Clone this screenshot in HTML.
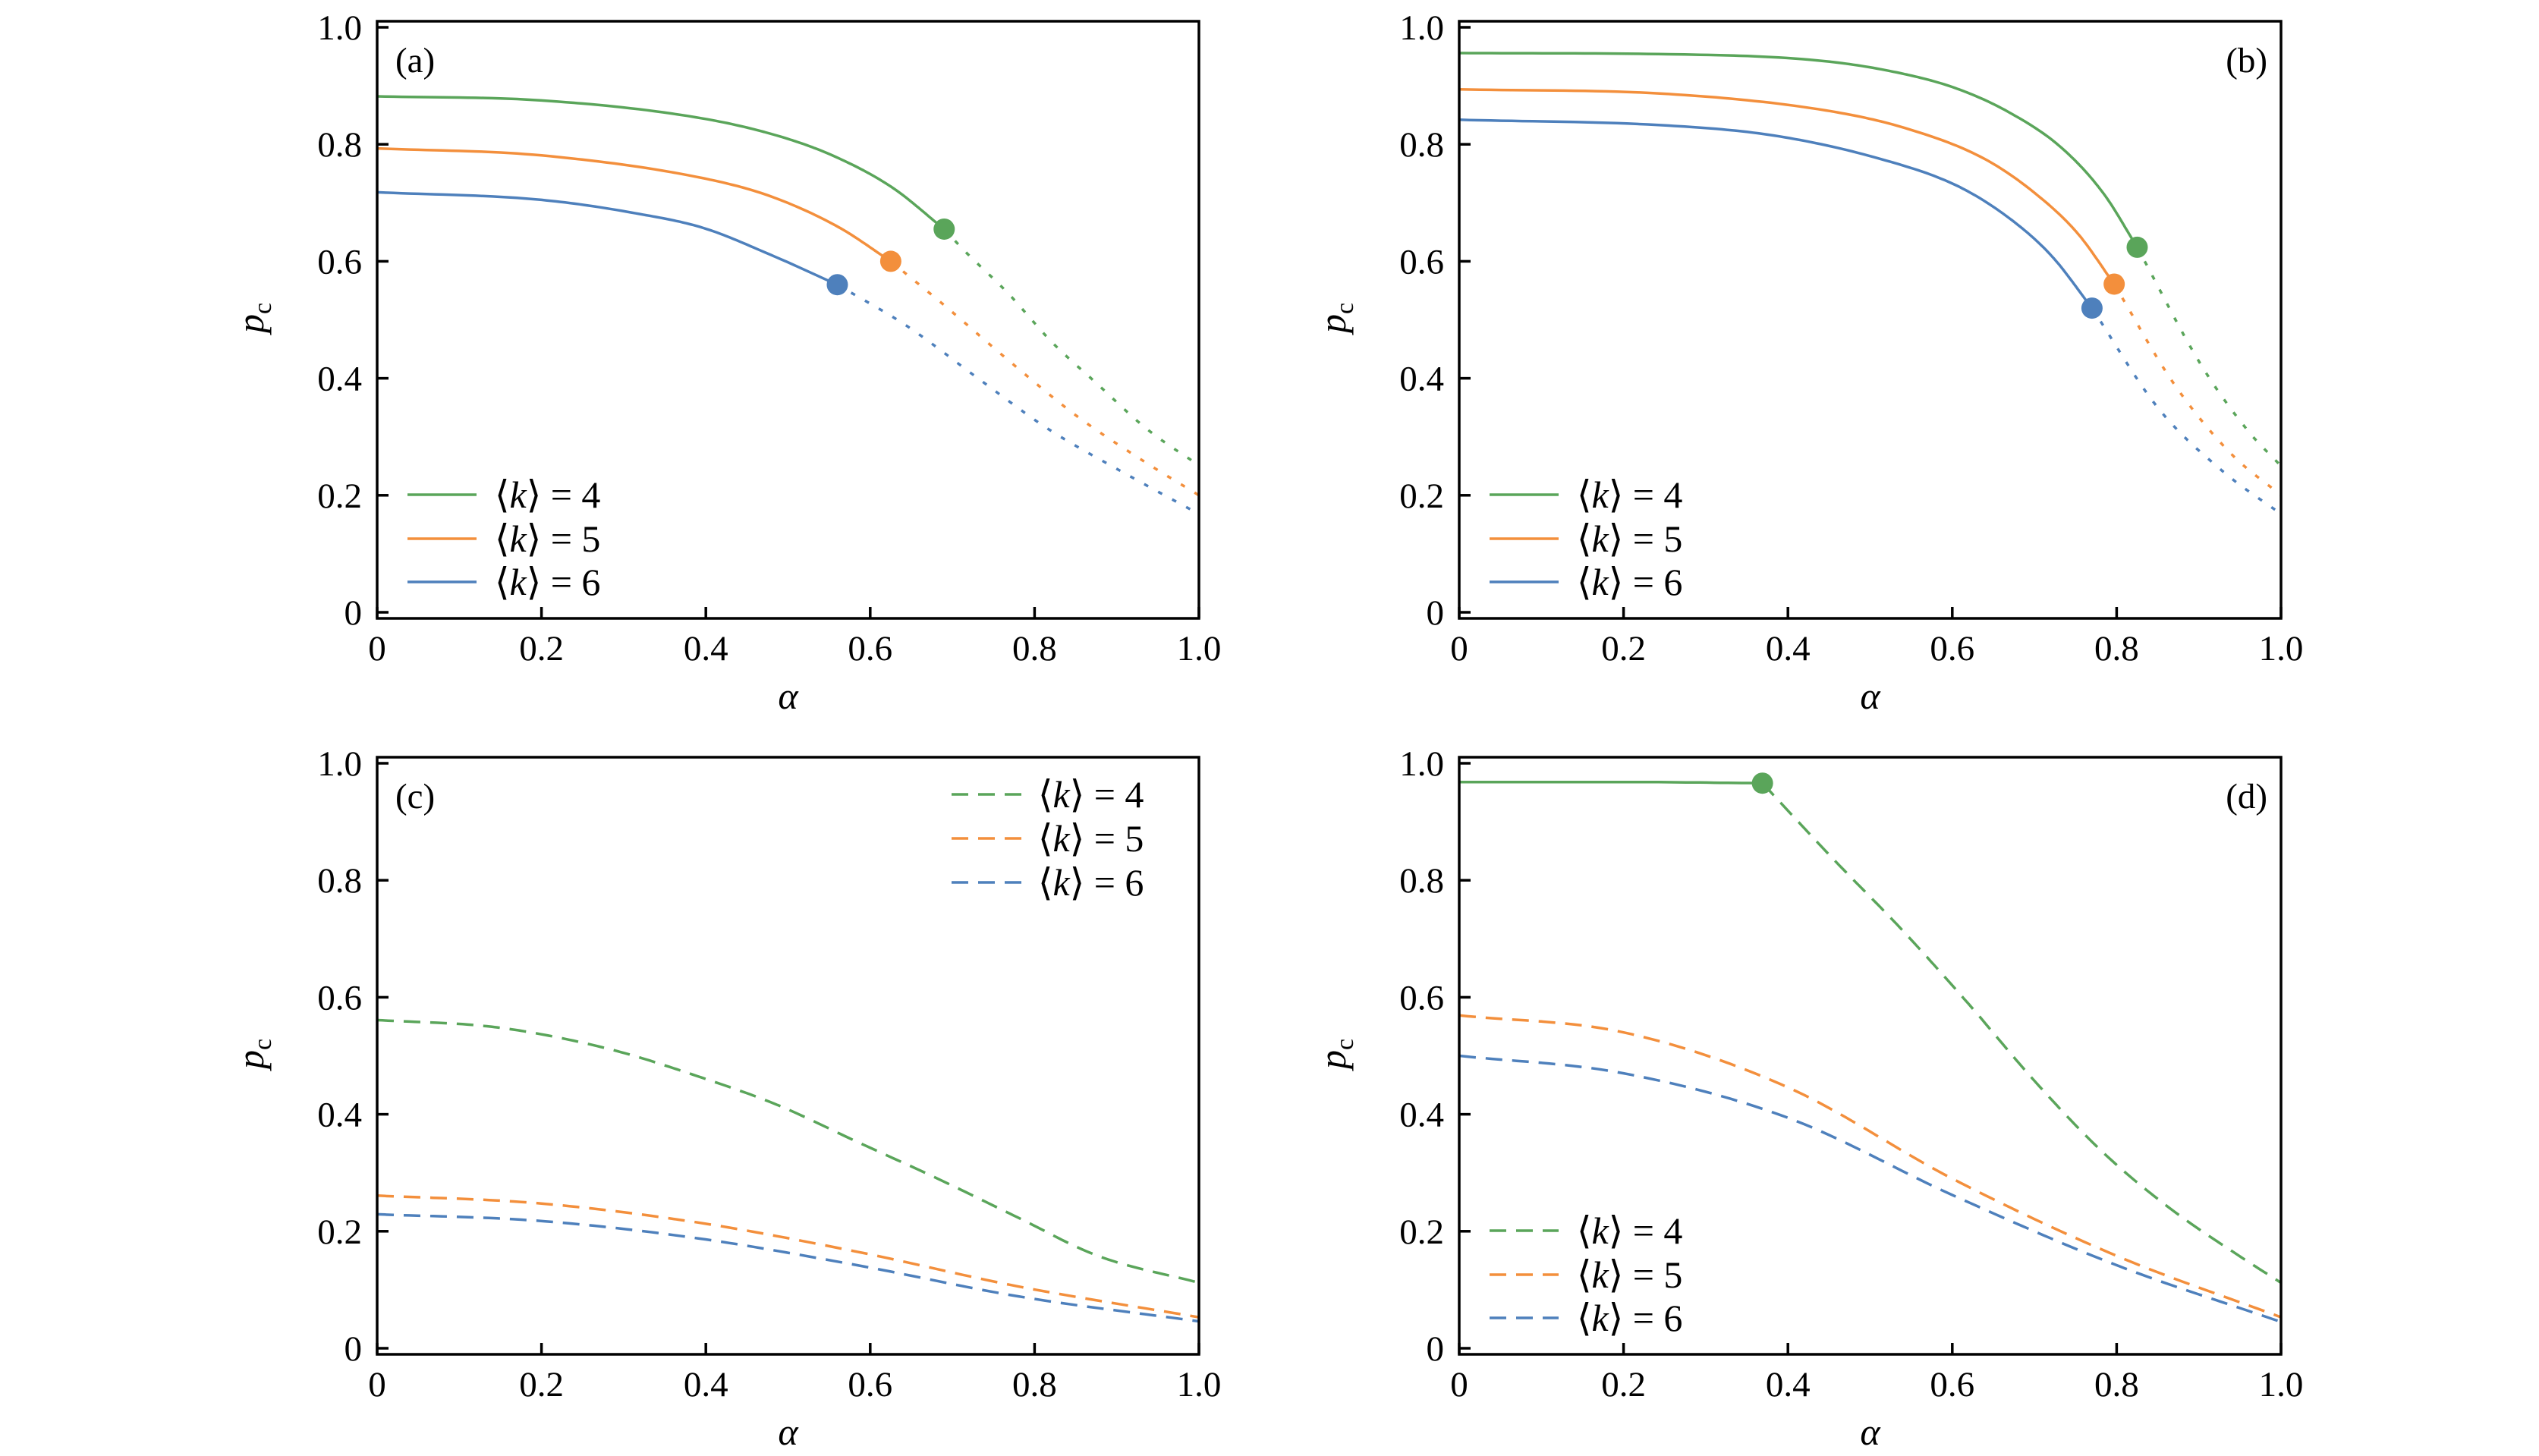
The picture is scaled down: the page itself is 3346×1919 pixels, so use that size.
<!DOCTYPE html>
<html><head><meta charset="utf-8"><title>p_c vs alpha</title>
<style>
html,body{margin:0;padding:0;background:#fff;}
svg{display:block;}
text{font-family:"Liberation Serif","DejaVu Serif",serif;fill:#000;}
</style></head>
<body>
<svg id="fig" width="3346" height="1919" viewBox="0 0 3346 1919" xmlns="http://www.w3.org/2000/svg"></svg>
<script>
// ---- data ----
const seriesKeys = ["4","5","6"];
const tickVals = [0,0.2,0.4,0.6,0.8,1.0];
const tickLabels = ["0","0.2","0.4","0.6","0.8","1.0"];
// panel (a)
const aGreenSolid = [[0,0.882],[0.2,0.875],[0.397,0.844],[0.496,0.811],[0.562,0.776],[0.628,0.725],[0.69,0.655]];
const aGreenDash  = [[0.69,0.655],[0.714,0.619],[0.768,0.545],[0.821,0.462],[0.875,0.392],[0.937,0.313],[1,0.251]];
const aOrangeSolid= [[0,0.793],[0.2,0.781],[0.397,0.742],[0.479,0.711],[0.562,0.658],[0.625,0.6]];
const aOrangeDash = [[0.625,0.6],[0.69,0.525],[0.768,0.431],[0.85,0.337],[0.932,0.259],[1,0.2]];
const aBlueSolid  = [[0,0.718],[0.2,0.705],[0.315,0.682],[0.397,0.657],[0.479,0.611],[0.56,0.56]];
const aBlueDash   = [[0.56,0.56],[0.644,0.49],[0.735,0.396],[0.817,0.313],[0.908,0.239],[1,0.168]];
// panel (b)
const bGreenSolid = [[0,0.956],[0.255,0.954],[0.446,0.942],[0.542,0.92],[0.606,0.895],[0.67,0.854],[0.733,0.794],[0.784,0.716],[0.825,0.624]];
const bGreenDash  = [[0.825,0.624],[0.904,0.42],[0.96,0.31],[1,0.25]];
const bOrangeSolid= [[0,0.894],[0.255,0.886],[0.446,0.858],[0.542,0.828],[0.638,0.776],[0.701,0.716],[0.753,0.647],[0.797,0.561]];
const bOrangeDash = [[0.797,0.561],[0.87,0.39],[0.94,0.27],[1,0.2]];
const bBlueSolid  = [[0,0.842],[0.255,0.832],[0.383,0.815],[0.51,0.776],[0.606,0.729],[0.67,0.673],[0.721,0.609],[0.77,0.52]];
const bBlueDash   = [[0.77,0.52],[0.85,0.35],[0.93,0.24],[1,0.168]];
// panel (c)
const cGreenDash  = [[0,0.561],[0.13,0.551],[0.195,0.538],[0.292,0.508],[0.39,0.465],[0.487,0.416],[0.584,0.353],[0.682,0.29],[0.779,0.224],[0.877,0.158],[1,0.112]];
const cOrangeDash = [[0,0.261],[0.195,0.248],[0.39,0.215],[0.584,0.165],[0.779,0.106],[1,0.053]];
const cBlueDash   = [[0,0.229],[0.195,0.218],[0.39,0.188],[0.584,0.142],[0.779,0.089],[1,0.046]];
// panel (d)
const dGreenSolid = [[0,0.968],[0.2,0.968],[0.369,0.966]];
const dGreenDash  = [[0.369,0.966],[0.454,0.838],[0.537,0.718],[0.619,0.59],[0.702,0.454],[0.784,0.334],[0.866,0.238],[0.949,0.158],[1,0.112]];
const dOrangeDash = [[0,0.569],[0.2,0.54],[0.4,0.446],[0.6,0.29],[0.8,0.158],[1,0.053]];
const dBlueDash   = [[0,0.5],[0.2,0.47],[0.4,0.394],[0.6,0.262],[0.8,0.142],[1,0.045]];
// critical points
const aDots = [[0.69,0.655],[0.625,0.6],[0.56,0.56]];
const bDots = [[0.825,0.624],[0.797,0.561],[0.77,0.52]];
const dDots = [[0.369,0.966]];

// ---- drawing ----
const NS="http://www.w3.org/2000/svg";
const svg=document.getElementById('fig');
const COL={g:"#5aa55a",o:"#f38f3c",b:"#4e80bc"};
const W=1083,H=771;
function mk(tag,attrs,parent){const e=document.createElementNS(NS,tag);for(const k in attrs)e.setAttribute(k,attrs[k]);(parent||svg).appendChild(e);return e;}
function pathD(pts,sx,sy){
  const n=pts.length,xs=pts.map(p=>p[0]),ys=pts.map(p=>p[1]);
  if(n<3){return "M"+sx(xs[0])+","+sy(ys[0])+" L"+sx(xs[n-1])+","+sy(ys[n-1]);}
  const d=[],m=[];
  for(let i=0;i<n-1;i++)d.push((ys[i+1]-ys[i])/(xs[i+1]-xs[i]));
  m[0]=d[0];m[n-1]=d[n-2];
  for(let i=1;i<n-1;i++){m[i]=(d[i-1]*d[i]<=0)?0:(d[i-1]+d[i])/2;}
  for(let i=0;i<n-1;i++){
    if(d[i]===0){m[i]=0;m[i+1]=0;continue;}
    const a=m[i]/d[i],b=m[i+1]/d[i],s=a*a+b*b;
    if(s>9){const t=3/Math.sqrt(s);m[i]=t*a*d[i];m[i+1]=t*b*d[i];}
  }
  let out="M"+sx(xs[0]).toFixed(1)+","+sy(ys[0]).toFixed(1);
  for(let i=0;i<n-1;i++){
    const h=xs[i+1]-xs[i];
    for(let k=1;k<=20;k++){
      const t=k/20,t2=t*t,t3=t2*t;
      const y=(2*t3-3*t2+1)*ys[i]+(t3-2*t2+t)*h*m[i]+(-2*t3+3*t2)*ys[i+1]+(t3-t2)*h*m[i+1];
      out+=" L"+sx(xs[i]+t*h).toFixed(1)+","+sy(y).toFixed(1);
    }
  }
  return out;
}
function panel(id,x0,y0,label,labelRight,curves,dots,legend){
  const g=mk('g',{});
  
  
  const sx=v=>x0+v*W, sy=v=>y0-v*H;
  const top=y0-H-8, bot=y0+8;
  const cp=mk('clipPath',{id:'clip-'+id},g);
  mk('rect',{x:x0,y:top,width:W,height:bot-top},cp);
  const plot=mk('g',{'clip-path':'url(#clip-'+id+')'},g);
  curves.forEach((c)=>{
    const p=mk('path',{d:pathD(c.pts,sx,sy),fill:'none',stroke:c.col,'stroke-width':3.5,'stroke-dasharray':c.dash||'none','stroke-linecap':'butt','stroke-linejoin':'round'},plot);
    
    
  });
  dots.forEach((d,i)=>{
    const c=mk('circle',{cx:sx(d[0]),cy:sy(d[1]),r:14,fill:d[2]},g);
    
    
  });
  const fr=mk('rect',{x:x0,y:top,width:W,height:bot-top,fill:'none',stroke:'#000','stroke-width':3.5},g);
  
  
  tickVals.forEach((v,i)=>{
    mk('line',{x1:x0,x2:x0+15,y1:sy(v),y2:sy(v),stroke:'#000','stroke-width':3.5},g);
    const t=mk('text',{x:x0-20,y:sy(v)+16,'font-size':47,'text-anchor':'end'},g);
    t.textContent=tickLabels[i];
    
    
    mk('line',{x1:sx(v),x2:sx(v),y1:bot,y2:bot-15,stroke:'#000','stroke-width':3.5},g);
    const u=mk('text',{x:sx(v),y:y0+63,'font-size':47,'text-anchor':'middle'},g);
    u.textContent=tickLabels[i];
    
    
  });
  const xl=mk('text',{x:x0+W/2,y:y0+127,'font-size':50,'font-style':'italic','text-anchor':'middle'},g);
  xl.textContent='α';
  
  
  const yx=x0-150, yy=y0-388;
  const yl=mk('text',{x:yx,y:yy,'font-size':50,'font-style':'italic','text-anchor':'middle',transform:'rotate(-90 '+yx+' '+yy+')'},g);
  yl.innerHTML='p<tspan font-size="34" font-style="normal" dy="10">c</tspan>';
  
  
  const pl=mk('text',{x:labelRight?x0+W-18:x0+24,y:y0-712,'font-size':47,'text-anchor':labelRight?'end':'start'},g);
  pl.textContent=label;
  
  
  legend.items.forEach((it,i)=>{
    const cy=y0+legend.rows[i];
    const lg=mk('g',{},g);
    
    
    mk('line',{x1:x0+legend.lx1,x2:x0+legend.lx2,y1:cy,y2:cy,stroke:it.col,'stroke-width':3.5,'stroke-dasharray':legend.dash||'none'},lg);
    const t=mk('text',{x:x0+legend.tx,y:cy+17,'font-size':50},lg);
    t.innerHTML='⟨<tspan font-style="italic">k</tspan>⟩ = '+seriesKeys[i];
  });
}
const SD="6 15", LD="22 13";
panel('a',497,807,'(a)',false,[
  {pts:aGreenSolid,col:COL.g,name:'curve-k4-solid'},{pts:aGreenDash,col:COL.g,dash:SD,name:'curve-k4-dashed'},
  {pts:aOrangeSolid,col:COL.o,name:'curve-k5-solid'},{pts:aOrangeDash,col:COL.o,dash:SD,name:'curve-k5-dashed'},
  {pts:aBlueSolid,col:COL.b,name:'curve-k6-solid'},{pts:aBlueDash,col:COL.b,dash:SD,name:'curve-k6-dashed'}],
  [[...aDots[0],COL.g],[...aDots[1],COL.o],[...aDots[2],COL.b]],
  {items:[{col:COL.g},{col:COL.o},{col:COL.b}],rows:[-155,-97,-40],lx1:40,lx2:131,tx:155});
panel('b',1923,807,'(b)',true,[
  {pts:bGreenSolid,col:COL.g,name:'curve-k4-solid'},{pts:bGreenDash,col:COL.g,dash:SD,name:'curve-k4-dashed'},
  {pts:bOrangeSolid,col:COL.o,name:'curve-k5-solid'},{pts:bOrangeDash,col:COL.o,dash:SD,name:'curve-k5-dashed'},
  {pts:bBlueSolid,col:COL.b,name:'curve-k6-solid'},{pts:bBlueDash,col:COL.b,dash:SD,name:'curve-k6-dashed'}],
  [[...bDots[0],COL.g],[...bDots[1],COL.o],[...bDots[2],COL.b]],
  {items:[{col:COL.g},{col:COL.o},{col:COL.b}],rows:[-155,-97,-40],lx1:40,lx2:131,tx:155});
panel('c',497,1777,'(c)',false,[
  {pts:cGreenDash,col:COL.g,dash:LD,name:'curve-k4-dashed'},
  {pts:cOrangeDash,col:COL.o,dash:LD,name:'curve-k5-dashed'},
  {pts:cBlueDash,col:COL.b,dash:LD,name:'curve-k6-dashed'}],
  [],
  {items:[{col:COL.g},{col:COL.o},{col:COL.b}],rows:[-730,-672,-614],lx1:757,lx2:850,tx:871,dash:LD});
panel('d',1923,1777,'(d)',true,[
  {pts:dGreenSolid,col:COL.g,name:'curve-k4-solid'},{pts:dGreenDash,col:COL.g,dash:LD,name:'curve-k4-dashed'},
  {pts:dOrangeDash,col:COL.o,dash:LD,name:'curve-k5-dashed'},
  {pts:dBlueDash,col:COL.b,dash:LD,name:'curve-k6-dashed'}],
  [[...dDots[0],COL.g]],
  {items:[{col:COL.g},{col:COL.o},{col:COL.b}],rows:[-155,-97,-40],lx1:40,lx2:131,tx:155,dash:LD});
</script>
</body></html>
